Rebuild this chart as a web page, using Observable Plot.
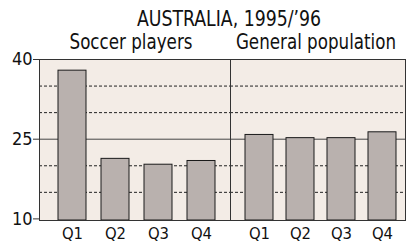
<!DOCTYPE html>
<html>
<head>
<meta charset="utf-8">
<script src="https://cdn.jsdelivr.net/npm/d3@7"></script>
<script src="https://cdn.jsdelivr.net/npm/@observablehq/plot@0.6"></script>
<style>
  html, body { margin: 0; padding: 0; background: #fff; }
  #wrap { position: relative; width: 406px; height: 243px; overflow: hidden; background: #fff;
          font-family: "DejaVu Sans Condensed", sans-serif; color: #111; }
  .lbl { position: absolute; white-space: nowrap; line-height: 1; }
  .panel { position: absolute; top: 0; }
</style>
</head>
<body>
<div id="wrap"></div>
<script>
const titleText = "AUSTRALIA, 1995/’96";
const panelNames = ["Soccer players", "General population"];
const quarters = ["Q1", "Q2", "Q3", "Q4"];
const soccer = [37.9, 21.3, 20.2, 20.9];
const general = [25.8, 25.2, 25.2, 26.3];
const yTicks = [10, 25, 40];
const dashedGrid = [15, 20, 30, 35];
const solidGrid = [25];
const yDomain = [9.7, 40];

const bg = "#f3ece6";
const barFill = "#b9b1ae";
const fontFam = '"DejaVu Sans Condensed", sans-serif';

const wrap = document.getElementById("wrap");

function addLabel(text, cx, top, size, sx) {
  const d = document.createElement("div");
  d.className = "lbl";
  d.textContent = text;
  d.style.left = cx + "px";
  d.style.top = top + "px";
  d.style.fontSize = size + "px";
  d.style.transform = `translateX(-50%) scaleX(${sx})`;
  wrap.appendChild(d);
}

function panel(values, o) {
  const data = quarters.map((q, i) => ({q, v: values[i]}));
  const p = Plot.plot({
    width: o.width, height: 243,
    marginLeft: o.ml, marginRight: o.mr, marginTop: 59, marginBottom: 23,
    x: {domain: quarters, paddingInner: o.pi, paddingOuter: o.po, align: o.align, axis: null},
    y: {domain: yDomain, axis: null},
    style: {fontFamily: fontFam, fontSize: "16px", background: "transparent", color: "#111", overflow: "visible"},
    marks: [
      Plot.frame({fill: bg, stroke: null}),
      Plot.ruleY(dashedGrid, {stroke: "#222", strokeDasharray: "3,2"}),
      Plot.ruleY(solidGrid, {stroke: "#444"}),
      Plot.barY(data, {x: "q", y1: () => yDomain[0], y2: "v", fill: barFill, stroke: "#1a1a1a", strokeWidth: 1}),
      Plot.axisX({tickSize: 0, tickPadding: 7, fontSize: 16.5, fill: "#111", label: null}),
      o.yaxis ? Plot.axisY({ticks: yTicks, tickSize: 6, tickPadding: 1, fontSize: 18, fill: "#111", stroke: "#333", label: null}) : null,
      Plot.frame({stroke: "#333", fill: "none"})
    ]
  });
  p.classList.add("panel");
  p.style.left = o.left + "px";
  wrap.appendChild(p);
}

panel(soccer, {left: 0, width: 231, ml: 39, mr: 0, pi: 0.34, po: 0.38, align: 0.54, yaxis: true});
panel(general, {left: 230, width: 176, ml: 0, mr: 1, pi: 0.306, po: 0.265, align: 0.64, yaxis: false});

addLabel(titleText, 229, 8, 22, 0.875);
addLabel(panelNames[0], 131, 32, 21, 0.885);
addLabel(panelNames[1], 316, 32, 21, 0.885);
</script>
</body>
</html>
